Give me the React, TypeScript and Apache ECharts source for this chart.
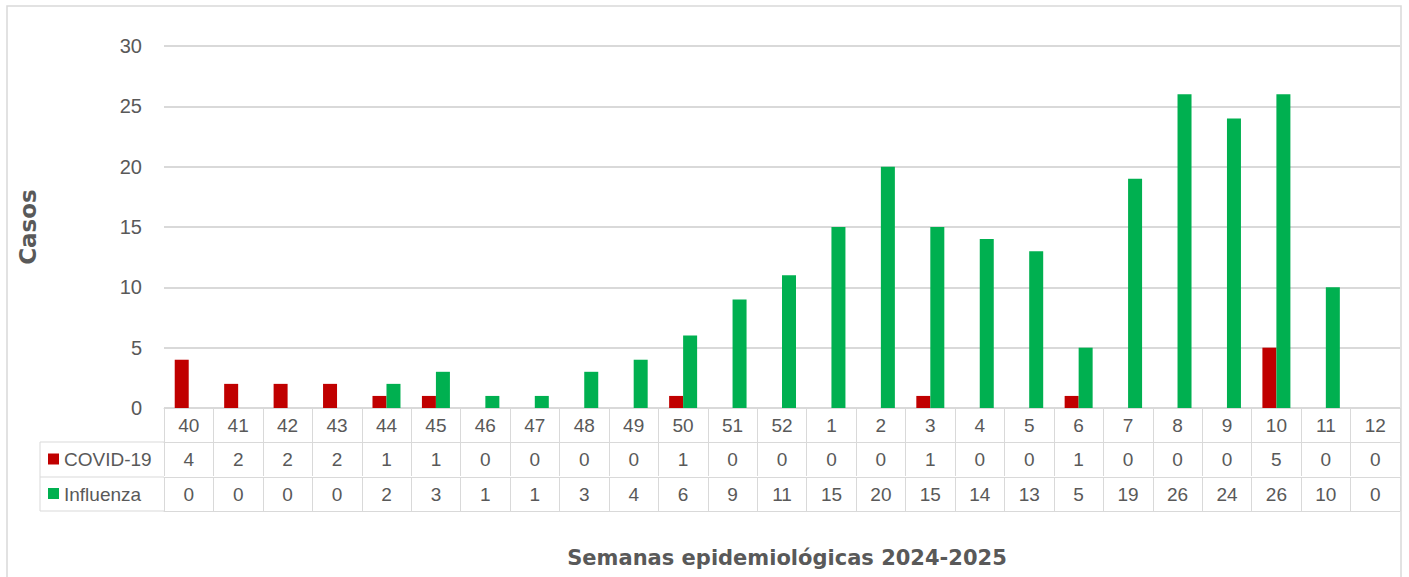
import React, { useEffect, useRef } from "react";
import * as echarts from "echarts";

const weeks = ["40","41","42","43","44","45","46","47","48","49","50","51","52","1","2","3","4","5","6","7","8","9","10","11","12"];
const covid = [4,2,2,2,1,1,0,0,0,0,1,0,0,0,0,1,0,0,1,0,0,0,5,0,0];
const influenza = [0,0,0,0,2,3,1,1,3,4,6,9,11,15,20,15,14,13,5,19,26,24,26,10,0];
const seriesNames = ["COVID-19", "Influenza"];
const colors = ["#C00000", "#00B050"];
const yTicks = { min: 0, max: 30, interval: 5 };
const yName = "Casos";
const xName = "Semanas epidemiológicas 2024-2025";

const FONT = "Liberation Sans, Arial, sans-serif";
const BFONT = "DejaVu Sans, Open Sans, sans-serif";
const TXT = "#595959";
const LINE = "#D9D9D9";

export default function App() {
  const ref = useRef<HTMLDivElement>(null);
  useEffect(() => {
    if (!ref.current) return;
    const chart = echarts.init(ref.current, null, { renderer: "svg" });
    const gl = 164, gr = 1400, gt = 46, gb = 408;
    const r1 = 442, r2 = 477, r3 = 511;
    const legL = 40;
    const tableAxis = (offset: number, fmt: (i: number) => string, showLabel: boolean, showTick: boolean) => ({
      type: "category",
      data: weeks,
      position: "bottom",
      offset,
      axisLine: { show: true, lineStyle: { color: LINE, width: 1 } },
      axisTick: { show: showTick, interval: 0, length: 34, lineStyle: { color: LINE, width: 1 } },
      axisLabel: {
        show: showLabel,
        interval: 0,
        margin: 8,
        fontSize: 19,
        fontFamily: FONT,
        color: TXT,
        formatter: (_v: string, i: number) => fmt(i),
      },
      splitLine: { show: false },
    });
    chart.setOption({
      animation: false,
      backgroundColor: "#ffffff",
      grid: { left: gl, right: 1409 - gr, top: gt, bottom: 577 - gb, containLabel: false },
      xAxis: [
        tableAxis(0, (i) => weeks[i], true, true),
        tableAxis(r1 - gb, (i) => String(covid[i]), true, true),
        tableAxis(r2 - gb, (i) => String(influenza[i]), true, true),
        tableAxis(r3 - gb, () => "", false, false),
      ],
      yAxis: {
        type: "value",
        min: yTicks.min,
        max: yTicks.max,
        interval: yTicks.interval,
        axisLine: { show: false },
        axisTick: { show: false },
        axisLabel: { fontSize: 20, color: TXT, fontFamily: FONT, margin: 22 },
        splitLine: { lineStyle: { color: LINE, width: 2 } },
      },
      series: [
        { name: seriesNames[0], type: "bar", data: covid, barWidth: 14, barGap: "0%", itemStyle: { color: colors[0] }, xAxisIndex: 0 },
        { name: seriesNames[1], type: "bar", data: influenza, barWidth: 14, barGap: "0%", itemStyle: { color: colors[1] }, xAxisIndex: 0 },
      ],
      graphic: [
        { type: "rect", shape: { x: 7, y: 6, width: 1394, height: 620 }, style: { fill: "none", stroke: LINE, lineWidth: 1.5 }, silent: true, z: -1 },
        { type: "line", shape: { x1: legL, y1: r1, x2: gl, y2: r1 }, style: { stroke: LINE, lineWidth: 1 } },
        { type: "line", shape: { x1: legL, y1: r2, x2: gl, y2: r2 }, style: { stroke: LINE, lineWidth: 1 } },
        { type: "line", shape: { x1: legL, y1: r3, x2: gl, y2: r3 }, style: { stroke: LINE, lineWidth: 1 } },
        { type: "line", shape: { x1: legL, y1: r1, x2: legL, y2: r3 }, style: { stroke: LINE, lineWidth: 1 } },
        { type: "rect", shape: { x: 48, y: (r1 + r2) / 2 - 6, width: 11, height: 11 }, style: { fill: colors[0] } },
        { type: "rect", shape: { x: 48, y: (r2 + r3) / 2 - 6, width: 11, height: 11 }, style: { fill: colors[1] } },
        { type: "text", x: 64, y: (r1 + r2) / 2, style: { text: seriesNames[0], fontSize: 19, fontFamily: FONT, fill: TXT, verticalAlign: "middle", align: "left" } },
        { type: "text", x: 64, y: (r2 + r3) / 2, style: { text: seriesNames[1], fontSize: 19, fontFamily: FONT, fill: TXT, verticalAlign: "middle", align: "left" } },
        { type: "text", x: 787, y: 558, style: { text: xName, fontSize: 21, fontWeight: "bold", fontFamily: BFONT, fill: TXT, verticalAlign: "middle", align: "center" } },
        { type: "text", x: 28, y: 227, rotation: Math.PI / 2, style: { text: yName, fontSize: 23, fontWeight: "bold", fontFamily: BFONT, fill: TXT, verticalAlign: "middle", align: "center" } },
      ],
    });
    return () => chart.dispose();
  }, []);
  return <div ref={ref} style={{ position: "fixed", left: 0, top: 0, width: 1409, height: 577 }} />;
}
